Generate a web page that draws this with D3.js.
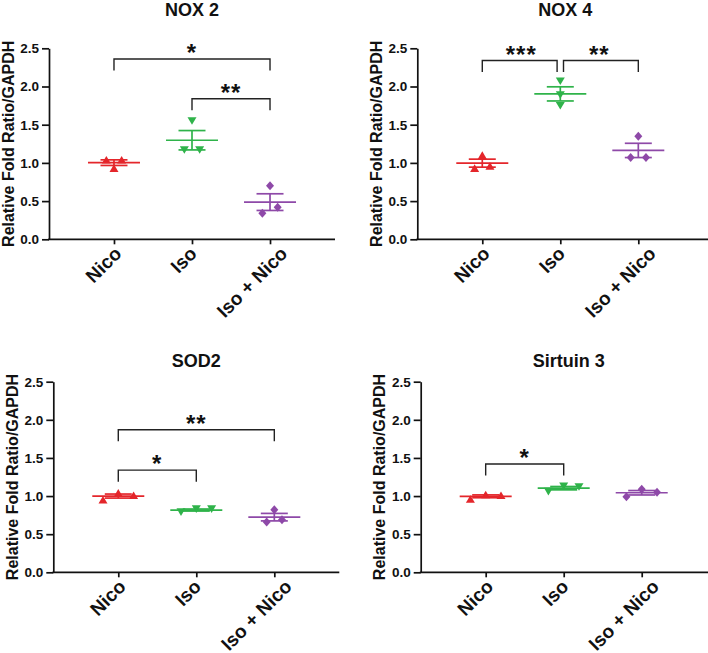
<!DOCTYPE html>
<html><head><meta charset="utf-8">
<script src="https://cdn.jsdelivr.net/npm/d3@7"></script>
<style>
body{margin:0;background:#fff}
text{font-family:"Liberation Sans",Arial,Helvetica,sans-serif;font-weight:bold;fill:#111}
</style>
</head><body><svg id="c" width="708" height="653"></svg>
<script>
// ---------- data ----------
const groups = ["Nico", "Iso", "Iso + Nico"];
const titles = ["NOX 2", "NOX 4", "SOD2", "Sirtuin 3"];
const yTicks = [0, 0.5, 1.0, 1.5, 2.0, 2.5];
const yLabel = "Relative Fold Ratio/GAPDH";
// replicate values per group (Nico, Iso, Iso + Nico)
const nox2  = [[1.04, 1.04, 0.93], [1.55, 1.17, 1.17], [0.70, 0.34, 0.42]];
const nox4  = [[1.10, 0.93, 0.96], [2.07, 1.89, 1.75], [1.35, 1.07, 1.07]];
const sod2  = [[0.95, 1.04, 1.01], [0.79, 0.83, 0.83], [0.82, 0.66, 0.69]];
const sirt3 = [[0.96, 1.02, 1.01], [1.06, 1.13, 1.12], [0.99, 1.09, 1.05]];
// significance brackets: from, to, level (y value), label
const nox2Sig  = [["Nico", "Iso + Nico", 2.36, "*"], ["Iso", "Iso + Nico", 1.84, "**"]];
const nox4Sig  = [["Nico", "Iso", 2.34, "***"], ["Iso", "Iso + Nico", 2.34, "**"]];
const sod2Sig  = [["Nico", "Iso + Nico", 1.87, "**"], ["Nico", "Iso", 1.34, "*"]];
const sirt3Sig = [["Nico", "Iso", 1.42, "*"]];

const panelData = [nox2, nox4, sod2, sirt3];
const panelSig = [nox2Sig, nox4Sig, sod2Sig, sirt3Sig];

// ---------- layout / style ----------
const colors = ["#e4262b", "#2fb34a", "#8e49a8"];
const layout = [
  {left: 49,    top: 48.3,  bottom: 239.3, width: 286, titleY: 15.5},
  {left: 417.3, top: 48.3,  bottom: 239.3, width: 296, titleY: 15.5},
  {left: 53.3,  top: 381.7, bottom: 572.3, width: 286, titleY: 367},
  {left: 420.7, top: 381.7, bottom: 572.3, width: 296, titleY: 367}
];
const svg = d3.select("#c");
svg.append("rect").attr("width", 708).attr("height", 653).attr("fill", "#fff");

function markerPath(k) {
  if (k === 0) return "M0,-3.9L4.5,3.7L-4.5,3.7Z";
  if (k === 1) return "M0,3.9L4.5,-3.7L-4.5,-3.7Z";
  return "M0,-4.5L4,0L0,4.5L-4,0Z";
}

layout.forEach((L, pi) => {
  const g = svg.append("g");
  const x = d3.scalePoint().domain(groups).range([L.left, L.left + 286]).padding(0.833);
  const y = d3.scaleLinear().domain([0, 2.5]).range([L.bottom, L.top]);

  // title
  g.append("text").attr("x", L.left + L.width / 2).attr("y", L.titleY)
    .attr("text-anchor", "middle").attr("font-size", 18).text(titles[pi]);

  // y axis
  const ya = g.append("g").attr("transform", `translate(${L.left},0)`)
    .call(d3.axisLeft(y).tickValues(yTicks).tickFormat(d3.format(".1f")).tickSize(7).tickSizeOuter(0).tickPadding(3));
  ya.selectAll("path,line").attr("stroke", "#111").attr("stroke-width", 1.7);
  ya.selectAll("text").attr("font-size", 13.5).attr("fill", "#111")
    .style("font-family", '"Liberation Sans",Arial,sans-serif').style("font-weight", "bold");

  // y title
  g.append("text")
    .attr("transform", `translate(${L.left - 35.5},${(L.top + L.bottom) / 2}) rotate(-90)`)
    .attr("text-anchor", "middle").attr("font-size", 16).text(yLabel);

  // x axis
  const xa = g.append("g").attr("transform", `translate(0,${L.bottom})`)
    .call(d3.axisBottom(x).tickSize(5).tickSizeOuter(0).tickFormat(""));
  xa.select(".domain").remove();
  xa.selectAll("line").attr("stroke", "#111").attr("stroke-width", 1.7);
  g.append("line").attr("x1", L.left - 0.85).attr("x2", L.left + L.width)
    .attr("y1", L.bottom).attr("y2", L.bottom).attr("stroke", "#111").attr("stroke-width", 1.7);

  groups.forEach(gr => {
    const t = g.append("text").attr("text-anchor", "end").attr("font-size", 19).text(gr);
    const len = t.node().getComputedTextLength();
    const px = x(gr) + 0.5 + 0.2 * len;
    t.attr("transform", `translate(${px},${L.bottom + 15.5}) rotate(-45)`);
  });

  // data
  panelData[pi].forEach((vals, gi) => {
    const cx = x(groups[gi]);
    const col = colors[gi];
    const mean = d3.mean(vals);
    const sem = d3.deviation(vals) / Math.sqrt(vals.length);
    // jitter clusters (points overlapping vertically are spread horizontally)
    const order = vals.map((v, i) => i).sort((a, b) => vals[a] - vals[b]);
    const clusters = [];
    order.forEach(i => {
      const last = clusters[clusters.length - 1];
      if (last && Math.abs(y(vals[i]) - y(vals[last[last.length - 1]])) < 7.5) last.push(i);
      else clusters.push([i]);
    });
    const offs = new Array(vals.length).fill(0);
    clusters.forEach(c => {
      const s = c.slice().sort((a, b) => a - b);
      s.forEach((i, j) => { offs[i] = (j - (s.length - 1) / 2) * 15.3; });
    });
    vals.forEach((v, i) => {
      g.append("path").attr("d", markerPath(gi))
        .attr("transform", `translate(${cx + offs[i]},${y(v)})`).attr("fill", col);
    });
    const lg = g.append("g").attr("stroke", col).attr("stroke-width", 1.7);
    lg.append("line").attr("x1", cx - 26).attr("x2", cx + 26).attr("y1", y(mean)).attr("y2", y(mean));
    lg.append("line").attr("x1", cx - 13.5).attr("x2", cx + 13.5).attr("y1", y(mean + sem)).attr("y2", y(mean + sem));
    lg.append("line").attr("x1", cx - 13.5).attr("x2", cx + 13.5).attr("y1", y(mean - sem)).attr("y2", y(mean - sem));
    lg.append("line").attr("x1", cx).attr("x2", cx).attr("y1", y(mean + sem)).attr("y2", y(mean - sem));
  });

  // significance brackets
  const sigs = panelSig[pi];
  sigs.forEach((s, si) => {
    const [a, b, lvl, lab] = s;
    const shared = name => sigs.some((o, oi) => oi !== si && Math.abs(o[2] - lvl) < 0.05 && (o[0] === name || o[1] === name));
    const x1 = x(a) + (shared(a) ? 3.2 : 0);
    const x2 = x(b) - (shared(b) ? 3.2 : 0);
    const yy = y(lvl);
    g.append("path").attr("d", `M${x1},${yy + 11.5}V${yy}H${x2}V${yy + 11.5}`)
      .attr("fill", "none").attr("stroke", "#222").attr("stroke-width", 1.4);
    g.append("text").attr("x", (x(a) + x(b)) / 2).attr("y", yy + 2)
      .attr("text-anchor", "middle").attr("font-size", 24).attr("letter-spacing", 1).text(lab);
  });
});
</script>
</body></html>
